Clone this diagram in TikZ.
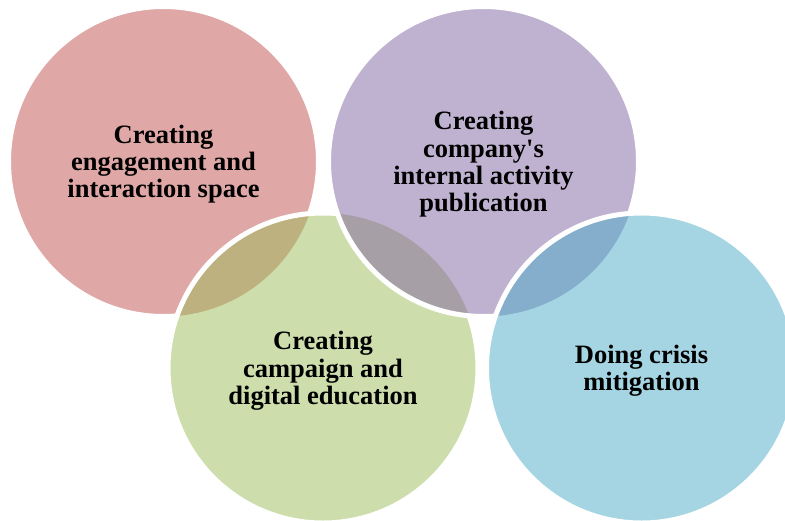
\documentclass[tikz,border=0pt]{standalone}
\usepackage{fontspec}
\setmainfont{Liberation Serif}
\definecolor{cred}{HTML}{C0504D}
\definecolor{cpurple}{HTML}{8064A2}
\definecolor{cgreen}{HTML}{9BBB59}
\definecolor{cblue}{HTML}{4BACC6}
\tikzset{
  disc/.style={fill opacity=0.5},
  rim/.style={draw=white, line width=5pt},
  label/.style={align=center, text depth=0pt, inner sep=0pt,
    font=\bfseries\fontsize{26.5}{27.3}\selectfont}
}
\begin{document}
\begin{tikzpicture}[x=1pt,y=-1pt]
\useasboundingbox (0,0) rectangle (785,520);
\clip (0,0) rectangle (785,520);
\coordinate (cA) at (163.5,161.5);
\coordinate (cB) at (483.5,161.5);
\coordinate (cC) at (323,368);
\coordinate (cD) at (641.5,368);
% fills
\fill[cred, disc] (cA) circle[radius=155pt];
\fill[cgreen, disc] (cC) circle[radius=155pt];
\fill[cpurple, disc] (cB) circle[radius=155pt];
\fill[cblue, disc] (cD) circle[radius=155pt];
% rims, hidden where a later disc covers them
\begin{scope}[even odd rule]
  \clip (-10,-10) rectangle (800,540) (cC) circle[radius=155pt];
  \draw[rim] (cA) circle[radius=155pt];
\end{scope}
\begin{scope}[even odd rule]
  \clip (-10,-10) rectangle (800,540) (cB) circle[radius=155pt];
  \draw[rim] (cC) circle[radius=155pt];
\end{scope}
\begin{scope}[even odd rule]
  \clip (-10,-10) rectangle (800,540) (cD) circle[radius=155pt];
  \draw[rim] (cB) circle[radius=155pt];
\end{scope}
\draw[rim] (cD) circle[radius=155pt];
% texts
\node[label] (tA) at (cA) {Creating\\engagement and\\interaction space};
\node[label] (tB) at (cB) {Creating\\company\textquotesingle s\\internal activity\\publication};
\node[label] (tC) at (cC) {Creating\\campaign and\\digital education};
\node[label] (tD) at (cD) {Doing crisis\\mitigation};
\end{tikzpicture}
\end{document}
